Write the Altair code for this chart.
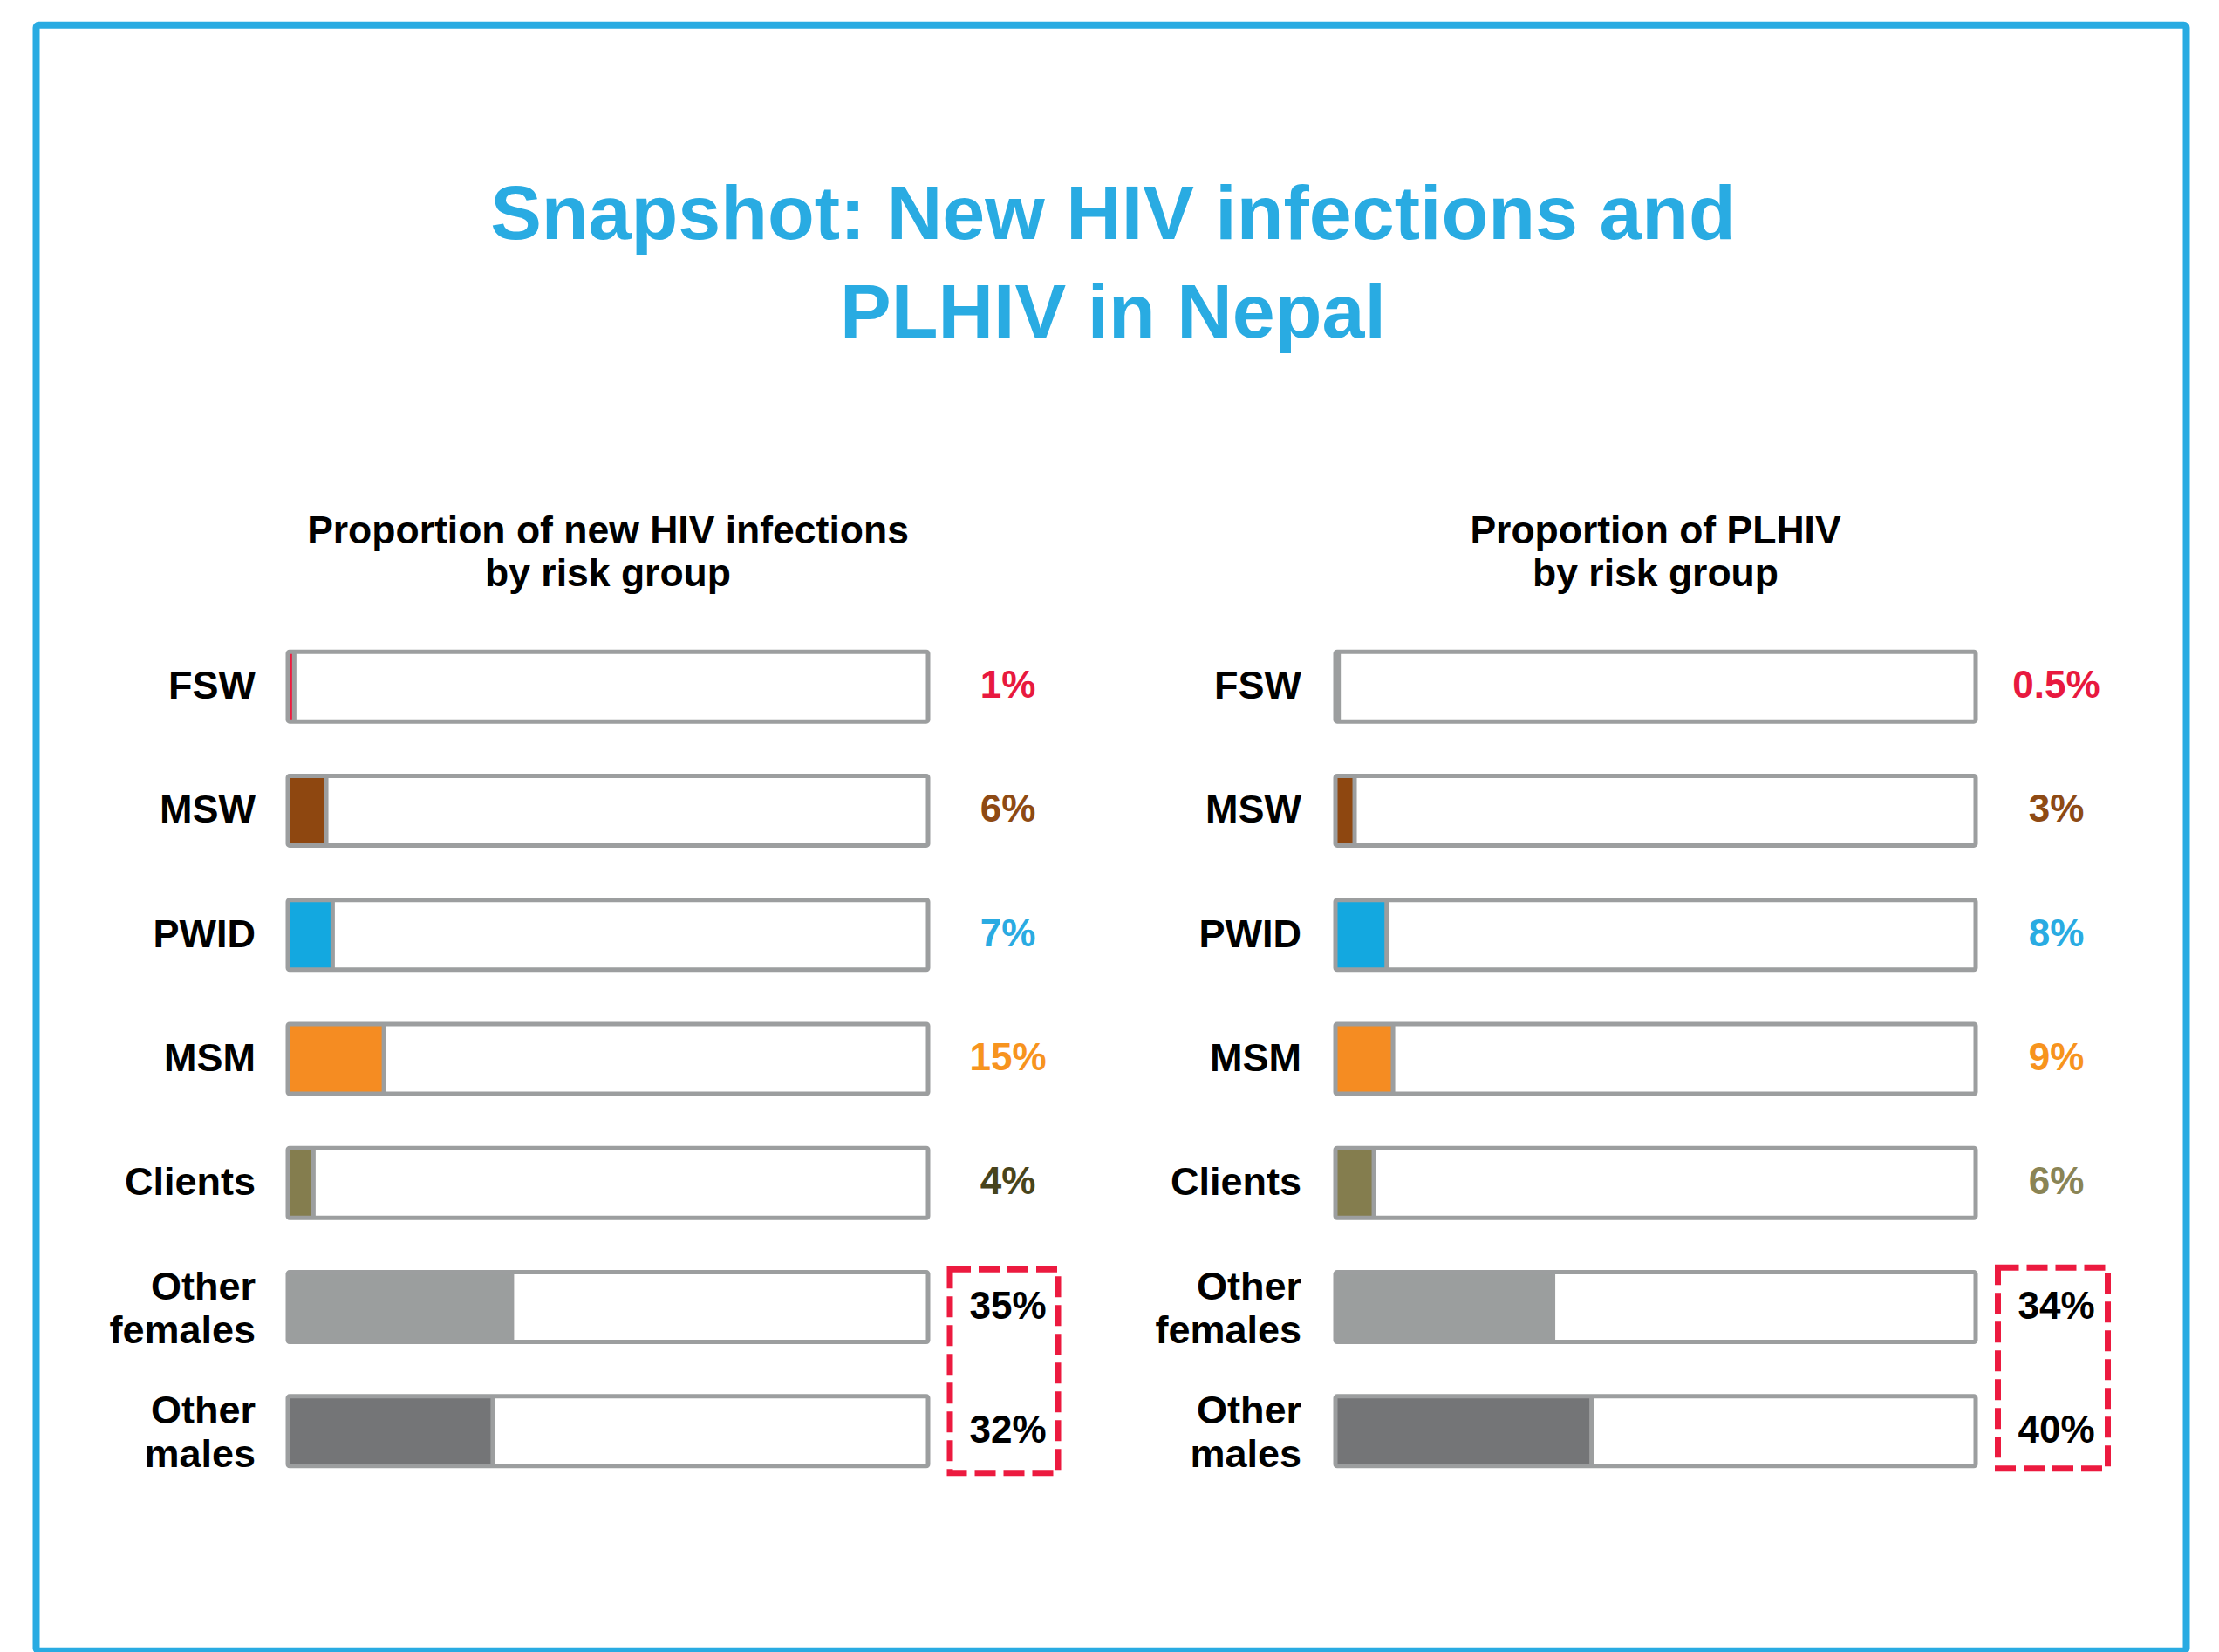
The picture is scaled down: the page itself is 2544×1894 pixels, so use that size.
import altair as alt
import pandas as pd

# ---------------- data ----------------
categories = ["FSW", "MSW", "PWID", "MSM", "Clients", "Other females", "Other males"]
display_names = ["FSW", "MSW", "PWID", "MSM", "Clients", "Other\nfemales", "Other\nmales"]
new_infections = [1, 6, 7, 15, 4, 35, 32]
new_labels = ["1%", "6%", "7%", "15%", "4%", "35%", "32%"]
plhiv = [0.5, 3, 8, 9, 6, 34, 40]
plhiv_labels = ["0.5%", "3%", "8%", "9%", "6%", "34%", "40%"]
scale_min = [0] * len(categories)      # each bar frame runs 0 ... 100 %
scale_max = [100] * len(categories)

title_text = "Snapshot: New HIV infections and\nPLHIV in Nepal"
subtitle_left = "Proportion of new HIV infections\nby risk group"
subtitle_right = "Proportion of PLHIV\nby risk group"

# ---------------- styles ----------------
FONT = "Liberation Sans"
BLUE = "#29ABE2"
GRAY = "#9C9E9F"
RED = "#EC1A3F"
fill_colors = ["#ED1C3F", "#8E4710", "#13A8E0", "#F58C22", "#847D4E", "#9B9E9E", "#747577"]
text_colors_left = ["#E8193F", "#8E4A14", "#2AABE2", "#F7941E", "#48441C", "#000000", "#000000"]
text_colors_right = ["#E8193F", "#8E4A14", "#2AABE2", "#F7941E", "#8A8455", "#000000", "#000000"]

keys_left = ["new:" + c for c in categories]
keys_right = ["plhiv:" + c for c in categories]
text_scale = alt.Scale(domain=keys_left + keys_right,
                       range=text_colors_left + text_colors_right)

W = 734
H = 996
one_row = pd.DataFrame({"k": [0]})


def panel(values, labels, keys, subtitle, cat_x, val_x, box, extras=()):
    df = pd.DataFrame({"cat": categories, "name": display_names,
                       "value": values, "label": labels, "key": keys,
                       "start": scale_min, "end": scale_max})
    xs = alt.Scale(domain=[0, 100])
    ys = alt.Scale(domain=categories, paddingInner=0.438, paddingOuter=0.219)
    Y = alt.Y("cat:N", scale=ys, axis=None, sort=categories)
    X0 = alt.X("start:Q", scale=xs, axis=None)
    base = alt.Chart(df)

    bg = base.mark_rect(fill="white").encode(x=X0, x2="end", y=Y)
    fill = base.mark_rect().encode(
        x=X0, x2="value", y=Y,
        color=alt.Color("cat:N", scale=alt.Scale(domain=categories, range=fill_colors),
                        legend=None),
    )
    divider = base.mark_tick(orient="vertical", thickness=5, size=80,
                             color=GRAY, opacity=1).encode(
        x=alt.X("value:Q", scale=xs, axis=None), y=Y)
    outline = base.mark_rect(filled=False, stroke=GRAY, strokeWidth=5,
                             cornerRadius=2).encode(x=X0, x2="end", y=Y)
    label_style = dict(align="right", baseline="middle", font=FONT,
                       fontWeight="bold", fontSize=45, lineBreak="\n",
                       lineHeight=50, color="black")
    cat_single = base.transform_filter(
        "indexof(datum.name, '\\n') < 0"
    ).mark_text(**label_style).encode(x=alt.value(cat_x), y=Y, text="name:N")
    cat_multi = base.transform_filter(
        "indexof(datum.name, '\\n') >= 0"
    ).mark_text(dy=-23, **label_style).encode(x=alt.value(cat_x), y=Y, text="name:N")
    val_text = base.mark_text(align="center", baseline="middle", font=FONT,
                              fontWeight="bold", fontSize=44).encode(
        x=alt.value(val_x), y=Y, text="label:N",
        fill=alt.Fill("key:N", scale=text_scale, legend=None),
    )
    sub = alt.Chart(one_row).mark_text(
        text=subtitle, align="center", baseline="alphabetic", font=FONT,
        fontWeight="bold", fontSize=44.5, lineBreak="\n", lineHeight=49,
        color="black").encode(x=alt.value(W / 2), y=alt.value(-93.3))
    dashed = alt.Chart(one_row).mark_rect(
        filled=False, stroke=RED, strokeWidth=7, strokeDash=[24, 9]).encode(
        x=alt.value(box[0]), x2=alt.value(box[1]),
        y=alt.value(box[2]), y2=alt.value(box[3]))
    layers = [bg, fill, divider, outline, cat_single, cat_multi, val_text, sub,
              dashed, *extras]
    return alt.layer(*layers).properties(width=W, height=H)


border = alt.Chart(one_row).mark_rect(
    filled=False, stroke=BLUE, strokeWidth=8, cornerRadius=3).encode(
    x=alt.value(-288.5), x2=alt.value(2176.5), y=alt.value(-687.3), y2=alt.value(1176.7))

title = alt.Chart(one_row).mark_text(
    text=title_text, align="center", baseline="alphabetic", font=FONT,
    fontWeight="bold", fontSize=88, lineBreak="\n", lineHeight=113,
    color=BLUE).encode(x=alt.value(946), y=alt.value(-442.3))

left = panel(new_infections, new_labels, keys_left, subtitle_left,
             -37, 825.5, [759, 883, 739.2, 972.7], extras=(border, title))
right = panel(plhiv, plhiv_labels, keys_right, subtitle_right,
              -39, 826.5, [759.5, 885.5, 737.2, 967.7])

chart = alt.hconcat(left, right, spacing=467, bounds="flush").properties(
    padding={"left": 29, "top": 16, "right": 0, "bottom": 0},
    background="white",
).configure_view(strokeWidth=0)

chart.save("out.html", embed_options={"renderer": "svg", "actions": False})
